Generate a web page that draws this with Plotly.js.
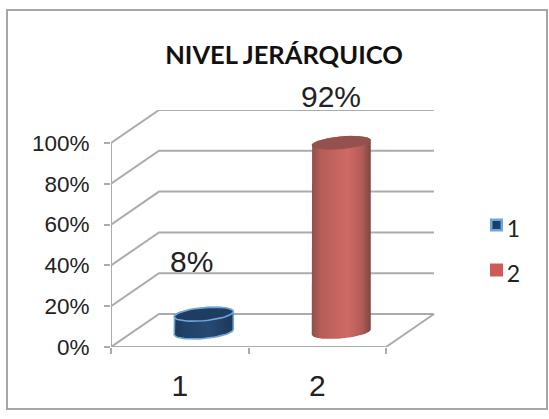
<!DOCTYPE html>
<html><head><meta charset="utf-8">
<script src="https://cdn.plot.ly/plotly-3.0.1.min.js"></script>
<style>html,body{margin:0;padding:0;background:#fff}#c{width:549px;height:419px}</style>
</head><body><div id="c"></div>
<script>
var categories = ['1', '2'];
var values = [8, 92];
var labels = ['8%', '92%'];
var yTicks = [0, 20, 40, 60, 80, 100];
var yTickText = ['0%', '20%', '40%', '60%', '80%', '100%'];
var title = 'NIVEL JERÁRQUICO';

// plot frame, pixels (the axes run on to the right so that the key shares them)
var W = 549, H = 419, L = 111, R = 545, T = 110, B = 347;
var pxPerCat = 137.5, pxPerPct = 2.04;
var depthX = 48 / pxPerCat, depthY = 33 / pxPerPct; // oblique projection of the depth axis
var xMax = (R - L) / pxPerCat, yMax = (B - T) / pxPerPct;
var GRID = '#a9abae';

var traces = [];
function line(xs, ys) {
  traces.push({type:'scatter', mode:'lines', x:xs, y:ys, showlegend:false, hoverinfo:'skip',
    line:{color:GRID, width:2}, cliponaxis:false});
}
// walls and floor
yTicks.forEach(function (v) {
  line([0, depthX, 2 + depthX], [v, v + depthY, v + depthY]);
});
line([0, 2, 2 + depthX], [0, 0, depthY]);
line([0, 0], [0, 100]);

function ellipse(cx, cy, from, to) {
  var xs = [], ys = [], rx = 29.5 / pxPerCat, ry = 6.5 / pxPerPct, tilt = 2.6 / pxPerPct;
  for (var i = 0; i <= 40; i++) {
    var t = from + (to - from) * i / 40;
    xs.push(cx + rx * Math.cos(t));
    ys.push(cy - ry * Math.sin(t) + tilt * Math.cos(t));
  }
  return [xs, ys];
}
var styles = [
  {scale:[[0,'#1d3a5e'],[0.25,'#234469'],[0.6,'#264a73'],[1,'#1c3757']], top:'#1f3d63', edge:'#6ea6dc', ew:1.6},
  {scale:[[0,'#8f4f4c'],[0.15,'#b45d59'],[0.6,'#cf6a65'],[0.85,'#b25c58'],[1,'#7e4542']], top:'#94524f', edge:'rgba(0,0,0,0)', ew:0}
];
values.forEach(function (v, i) {
  var cx = i + 0.5 + depthX / 2, base = depthY / 2 - 1.5 / pxPerPct, topY = v + depthY / 2;
  var lower = ellipse(cx, base, 0, Math.PI);             // front of the base, right to left
  var upper = ellipse(cx, topY, Math.PI, 2 * Math.PI);   // back of the top, left to right
  var st = styles[i];
  traces.push({type:'scatter', mode:'lines', name:categories[i], showlegend:false, hoverinfo:'skip',
    x:lower[0].concat(upper[0]).concat([lower[0][0]]),
    y:lower[1].concat(upper[1]).concat([lower[1][0]]),
    fill:'toself', fillgradient:{type:'horizontal', colorscale:st.scale},
    fillcolor:'rgba(0,0,0,0)', line:{color:st.edge, width:st.ew}});
  var capA = ellipse(cx, topY, 0, 2 * Math.PI);
  traces.push({type:'scatter', mode:'lines', showlegend:false, hoverinfo:'skip',
    x:capA[0], y:capA[1], fill:'toself', fillcolor:st.top, line:{color:st.edge, width:st.ew}});
});
// legend key
var legendColors = ['#17406f', '#cd5c58'], legendEdges = ['#6ea6dc', '#cd5c58'];
categories.forEach(function (c, i) {
  var keyY = 225 + 45 * i;
  traces.push({type:'scatter', mode:'markers', name:c, showlegend:false, hoverinfo:'skip', cliponaxis:false,
    x:[(496.5 - L) / pxPerCat], y:[(B - keyY) / pxPerPct],
    marker:{symbol:'square', size:i === 0 ? 10.5 : 13, color:legendColors[i], line:{color:legendEdges[i], width:i === 0 ? 2.5 : 0}}});
  traces.push({type:'scatter', mode:'text', name:c, showlegend:false, hoverinfo:'skip', cliponaxis:false,
    x:[(513.5 - L) / pxPerCat], y:[(B - keyY - 6) / pxPerPct], text:[c], textposition:'middle center',
    textfont:{family:'Lato, Carlito, sans-serif', size:23, color:'#222'}});
});

var annotations = values.map(function (v, i) {
  return {x:i + 0.5 + depthX / 2, y:v + depthY / 2, xref:'x', yref:'y', text:labels[i], showarrow:false,
    xshift:i === 0 ? -12 : -10, yshift:i === 0 ? 53 : 46, font:{family:'Liberation Sans, Arial, sans-serif', size:30, color:'#222'}};
});

function px(x) { return (x - L) / (R - L); }
function py(y) { return (B - y) / (B - T); }
var layout = {
  width:W, height:H, paper_bgcolor:'#fff', plot_bgcolor:'#fff', showlegend:false,
  margin:{l:L, r:W - R, t:T, b:H - B, pad:0, autoexpand:false},
  title:{text:'<b>' + title + '</b>', x:284 / W, xanchor:'center', y:1 - 55 / H, yanchor:'middle',
    font:{family:'Lato, Carlito, sans-serif', size:25.5, color:'#111'}},
  xaxis:{range:[0, xMax], showgrid:false, zeroline:false, showline:false, fixedrange:true,
    tickmode:'array', tickvals:[0.5, 1.5], ticktext:categories, ticks:'', ticklabelstandoff:18,
    minor:{tickmode:'array', tickvals:[0, 1, 2], ticks:'outside', ticklen:6, tickwidth:2, tickcolor:GRID, showgrid:false},
    tickfont:{family:'Liberation Sans, Arial, sans-serif', size:30, color:'#222'}},
  yaxis:{range:[0, yMax], showgrid:false, zeroline:false, showline:false, fixedrange:true,
    tickmode:'array', tickvals:yTicks, ticktext:yTickText, ticks:'outside', ticklen:6, tickwidth:2, tickcolor:GRID,
    ticklabelstandoff:10,
    tickfont:{family:'Liberation Sans, Arial, sans-serif', size:22.5, color:'#222'}},
  shapes:[{type:'rect', xref:'paper', yref:'paper', x0:px(7), x1:px(547), y0:py(409), y1:py(10),
    line:{color:'#a6a6a6', width:2}, fillcolor:'rgba(0,0,0,0)', layer:'below'}],
  annotations:annotations
};
Plotly.newPlot('c', traces, layout, {displayModeBar:false, staticPlot:true});
</script></body></html>
